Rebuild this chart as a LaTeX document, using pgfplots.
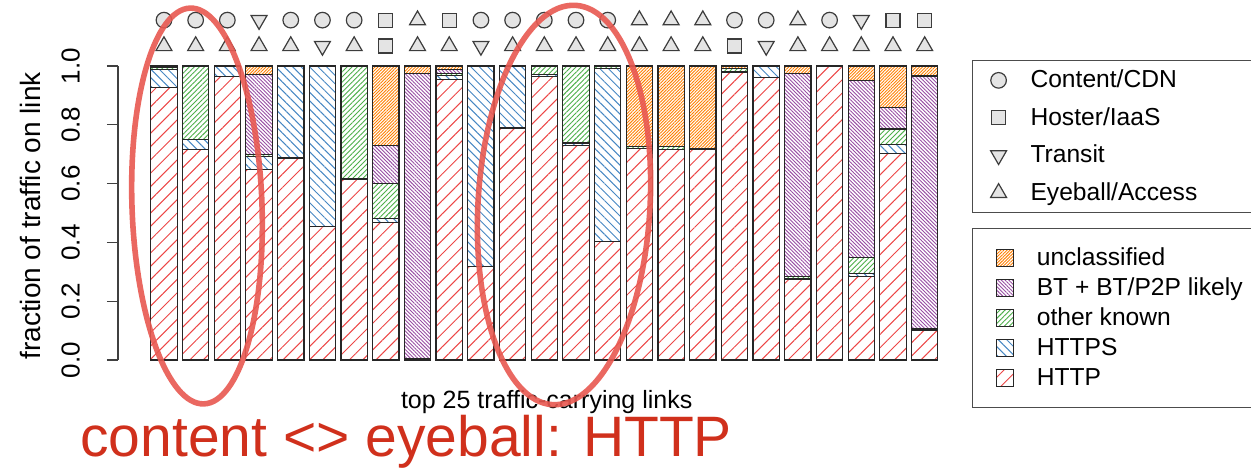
\documentclass[border=0pt]{standalone}
\usepackage{fontspec}
\setmainfont{Liberation Sans}
\usepackage{pgfplots}
\usepackage{pgfplotstable}
\pgfplotsset{compat=1.18}
\usetikzlibrary{patterns.meta}

\definecolor{cHttp}{RGB}{236,70,70}
\definecolor{cHttps}{RGB}{70,135,195}
\definecolor{cOther}{RGB}{77,175,74}
\definecolor{cBt}{RGB}{152,78,163}
\definecolor{cUncl}{RGB}{255,127,0}
\definecolor{markfill}{RGB}{228,228,228}
\definecolor{markedge}{RGB}{60,60,60}
\definecolor{ring}{RGB}{232,88,80}
\definecolor{slidered}{RGB}{208,48,28}

% share of traffic per link (columns add up to 1)
\pgfplotstableread{
x  http  https other bt    uncl
1  0.928 0.060 0.006 0.000 0.006
2  0.717 0.032 0.251 0.000 0.000
3  0.963 0.035 0.002 0.000 0.000
4  0.647 0.045 0.008 0.272 0.028
5  0.687 0.313 0.000 0.000 0.000
6  0.453 0.547 0.000 0.000 0.000
7  0.613 0.005 0.382 0.000 0.000
8  0.467 0.015 0.119 0.129 0.270
9  0.005 0.000 0.000 0.970 0.025
10 0.955 0.012 0.008 0.013 0.012
11 0.319 0.678 0.003 0.000 0.000
12 0.789 0.211 0.000 0.000 0.000
13 0.963 0.008 0.029 0.000 0.000
14 0.730 0.008 0.262 0.000 0.000
15 0.402 0.590 0.008 0.000 0.000
16 0.719 0.000 0.008 0.000 0.273
17 0.717 0.000 0.008 0.000 0.275
18 0.715 0.000 0.005 0.000 0.280
19 0.979 0.003 0.010 0.000 0.008
20 0.960 0.040 0.000 0.000 0.000
21 0.273 0.005 0.005 0.692 0.025
22 1.000 0.000 0.000 0.000 0.000
23 0.285 0.008 0.056 0.602 0.049
24 0.702 0.030 0.054 0.072 0.142
25 0.100 0.004 0.003 0.859 0.034
}\traffic

\pgfplotsset{
  linkaxis/.style={
    at={(0pt,0pt)}, anchor=south west,
    scale only axis, width=413pt, height=147pt,
    xmin=-0.45, xmax=25.61, ymin=0, ymax=1,
    enlargelimits=false,
  },
  seg/.style={draw=black!85, line width=0.6pt,
    legend image code/.code={\draw[##1] (0pt,-4.25pt) rectangle (8.5pt,4.25pt);}},
  asmark/.style={only marks,
    every mark/.append style={fill=markfill, draw=markedge, line width=0.6pt},
    legend image code/.code={\draw[##1] plot coordinates {(0pt,0pt)};}},
}

\begin{document}
\begin{tikzpicture}
\useasboundingbox (-59pt,-55pt) rectangle (566.5pt,180pt);

\begin{axis}[linkaxis, clip=false,
  ybar stacked, bar width=0.83,
  axis x line=none, axis y line=left,
  y axis line style={-, black!75, line width=0.6pt},
  ytick={0,0.2,0.4,0.6,0.8,1},
  ytick align=outside, major tick length=5.5pt,
  ytick style={black!75, line width=0.6pt},
  yticklabel style={xshift=-10pt, rotate=90, anchor=south, font=\fontsize{13}{15}\selectfont,
    /pgf/number format/.cd, fixed, fixed zerofill, precision=1, assume math mode=true},
  ylabel={fraction of traffic on link},
  ylabel style={at={(axis description cs:-0.1065,0.49)}, anchor=center,
    font=\fontsize{14}{16}\selectfont},
  reverse legend, legend cell align=left,
  legend style={at={(1.0339,0.449)}, anchor=north west,
    draw=black!70, line width=0.6pt, font=\fontsize{12.3}{14}\selectfont,
    inner xsep=11.5pt, inner ysep=7.25pt, row sep=0pt, column sep=11.5pt,
    nodes={minimum height=15pt, inner sep=0pt}},
]
\addplot[seg, pattern={Lines[angle=45,distance=4.7pt,line width=0.5pt]}, pattern color=cHttp]
  table[x=x,y=http]{\traffic};
\addlegendentry{\makebox[110pt][l]{HTTP}}
\addplot[seg, pattern={Lines[angle=-45,distance=3pt,line width=0.5pt]}, pattern color=cHttps]
  table[x=x,y=https]{\traffic};
\addlegendentry{\makebox[110pt][l]{HTTPS}}
\addplot[seg, pattern={Lines[angle=45,distance=1.8pt,line width=0.45pt]}, pattern color=cOther]
  table[x=x,y=other]{\traffic};
\addlegendentry{\makebox[110pt][l]{other known}}
\addplot[seg, pattern={Lines[angle=-45,distance=1.3pt,line width=0.45pt]}, pattern color=cBt]
  table[x=x,y=bt]{\traffic};
\addlegendentry{\makebox[110pt][l]{BT + BT/P2P likely}}
\addplot[seg, pattern={Lines[angle=45,distance=1.1pt,line width=0.45pt]}, pattern color=cUncl]
  table[x=x,y=uncl]{\traffic};
\addlegendentry{\makebox[110pt][l]{unclassified}}
\node[font=\fontsize{12.5}{15}\selectfont] at (axis description cs:0.519,-0.143)
  {top 25 traffic-carrying links};
\end{axis}

% AS type of the two ends of each link
\begin{axis}[linkaxis, hide axis, clip=false,
  legend cell align=left,
  legend style={at={(1.0339,1.0204)}, anchor=north west,
    draw=black!70, line width=0.6pt, font=\fontsize{12.3}{14}\selectfont,
    inner xsep=9pt, inner ysep=0.5pt, row sep=0pt, column sep=12pt,
    nodes={minimum height=18.75pt, inner sep=0pt}},
]
\addplot[asmark, mark=*, mark size=3.9pt] coordinates {
  (1,1.156) (2,1.156) (3,1.156) (5,1.156) (6,1.156) (7,1.156) (11,1.156)
  (12,1.156) (13,1.156) (14,1.156) (15,1.156) (19,1.156) (20,1.156) (22,1.156)};
\addlegendentry{\makebox[115pt][l]{Content/CDN}}
\addplot[asmark, mark=square*, mark size=3.5pt] coordinates {
  (8,1.156) (10,1.156) (24,1.156) (25,1.156) (8,1.068) (19,1.068)};
\addlegendentry{\makebox[115pt][l]{Hoster/IaaS}}
\addplot[asmark, mark=triangle*, mark size=4.6pt, every mark/.append style={rotate=180}] coordinates {
  (4,1.156) (23,1.156) (6,1.068) (11,1.068) (20,1.068)};
\addlegendentry{\makebox[115pt][l]{Transit}}
\addplot[asmark, mark=triangle*, mark size=4.6pt] coordinates {
  (9,1.156) (16,1.156) (17,1.156) (18,1.156) (21,1.156)
  (1,1.068) (2,1.068) (3,1.068) (4,1.068) (5,1.068) (7,1.068) (9,1.068)
  (10,1.068) (12,1.068) (13,1.068) (14,1.068) (15,1.068) (16,1.068) (17,1.068)
  (18,1.068) (21,1.068) (22,1.068) (23,1.068) (24,1.068) (25,1.068)};
\addlegendentry{\makebox[115pt][l]{Eyeball/Access}}
\end{axis}

% slide annotations
\draw[ring, line width=2.8pt, opacity=0.9] (39.5pt,77pt) ellipse [x radius=32.5pt, y radius=99pt, rotate=2];
\draw[ring, line width=2.8pt, opacity=0.9] (223pt,77.5pt) ellipse [x radius=43pt, y radius=100pt, rotate=-3.3];
\node[anchor=base west, text=slidered, inner sep=0pt, font=\fontsize{28.5}{30}\selectfont]
  at (-19pt,-48.5pt) {content <> eyeball: HTTP};
\end{tikzpicture}
\end{document}
